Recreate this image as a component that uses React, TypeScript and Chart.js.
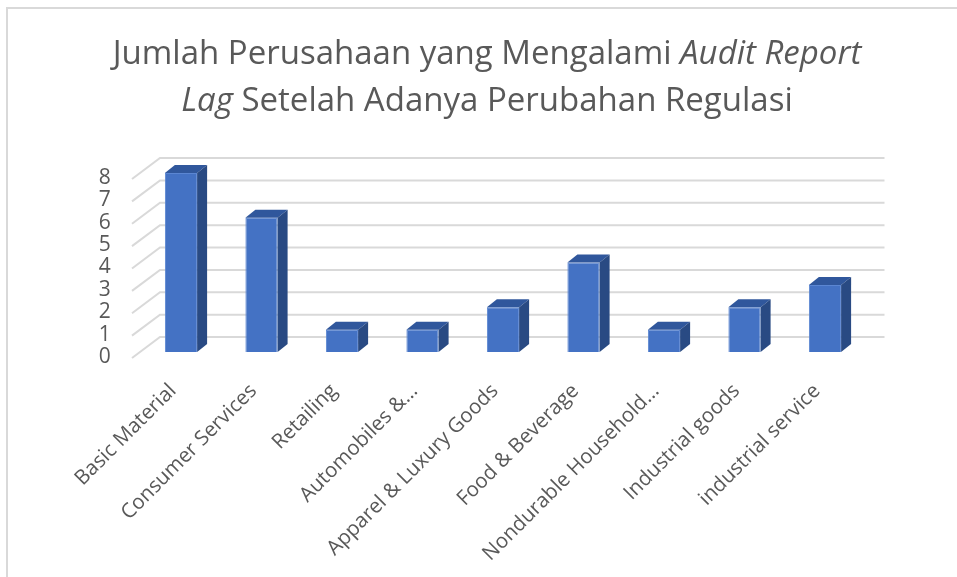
import React, { useEffect, useRef } from "react";
import { Chart, registerables } from "chart.js";

Chart.register(...registerables);

const categories = [
  "Basic Material",
  "Consumer Services",
  "Retailing",
  "Automobiles &...",
  "Apparel & Luxury Goods",
  "Food & Beverage",
  "Nondurable Household...",
  "Industrial goods",
  "industrial service",
];
const values = [8, 6, 1, 1, 2, 4, 1, 2, 3];
const yTicks = [0, 1, 2, 3, 4, 5, 6, 7, 8];
const titleLine1 = [
  { text: "Jumlah Perusahaan yang Mengalami ", italic: false },
  { text: "Audit Report", italic: true },
];
const titleLine2 = [
  { text: "Lag", italic: true },
  { text: " Setelah Adanya Perubahan Regulasi", italic: false },
];

const FRONT_DX = -8.75;
const FRONT_DY = 6;
const BACK_DX = 19.25;
const BACK_DY = -15;
const BAR_DX = 10;
const BAR_DY = -8;

const frame3d = {
  id: "frame3d",
  beforeDraw(chart: any) {
    const ctx = chart.ctx;
    ctx.save();
    ctx.fillStyle = "#ffffff";
    ctx.fillRect(0, 0, chart.width, chart.height);
    ctx.strokeStyle = "#D9D9D9";
    ctx.lineWidth = 2;
    ctx.strokeRect(7, 8, 1200, 1200);
    ctx.restore();
  },
  beforeDatasetsDraw(chart: any) {
    const ctx = chart.ctx;
    const y = chart.scales.y;
    const area = chart.chartArea;
    ctx.save();
    ctx.strokeStyle = "#D9D9D9";
    ctx.lineWidth = 2;
    yTicks.forEach((v) => {
      const py = y.getPixelForValue(v);
      ctx.beginPath();
      ctx.moveTo(area.left + FRONT_DX, py + FRONT_DY);
      ctx.lineTo(area.left + BACK_DX, py + BACK_DY);
      ctx.lineTo(area.right + BACK_DX, py + BACK_DY);
      ctx.stroke();
    });
    ctx.restore();
  },
  afterDatasetsDraw(chart: any) {
    const ctx = chart.ctx;
    const meta = chart.getDatasetMeta(0);
    ctx.save();
    meta.data.forEach((bar: any) => {
      const { x, y, base, width } = bar.getProps(["x", "y", "base", "width"], true);
      const l = x - width / 2;
      const r = x + width / 2;
      ctx.fillStyle = "#30579C";
      ctx.beginPath();
      ctx.moveTo(l, y);
      ctx.lineTo(l + BAR_DX, y + BAR_DY);
      ctx.lineTo(r + BAR_DX, y + BAR_DY);
      ctx.lineTo(r, y);
      ctx.closePath();
      ctx.fill();
      ctx.fillStyle = "#294A83";
      ctx.beginPath();
      ctx.moveTo(r, y);
      ctx.lineTo(r + BAR_DX, y + BAR_DY);
      ctx.lineTo(r + BAR_DX, base + BAR_DY);
      ctx.lineTo(r, base);
      ctx.closePath();
      ctx.fill();
    });
    ctx.restore();
  },
  afterDraw(chart: any) {
    const ctx = chart.ctx;
    ctx.save();
    ctx.fillStyle = "#595959";
    ctx.textBaseline = "alphabetic";
    const size = 33;
    const drawLine = (segs: any[], baseline: number, cx: number) => {
      const widths = segs.map((s) => {
        ctx.font = `${s.italic ? "italic " : ""}${size}px "Open Sans"`;
        return ctx.measureText(s.text).width;
      });
      const total = widths.reduce((a, b) => a + b, 0);
      let x = cx - total / 2;
      segs.forEach((s, i) => {
        ctx.font = `${s.italic ? "italic " : ""}${size}px "Open Sans"`;
        ctx.textAlign = "left";
        ctx.fillText(s.text, x, baseline);
        x += widths[i];
      });
    };
    drawLine(titleLine1, 64, 487);
    drawLine(titleLine2, 111, 487);
    ctx.restore();
  },
};

export default function App() {
  const ref = useRef<HTMLCanvasElement>(null);
  useEffect(() => {
    if (!ref.current) return;
    const chart = new Chart(ref.current, {
      type: "bar",
      data: {
        labels: categories,
        datasets: [
          {
            data: values,
            backgroundColor: "#4472C4",
            borderColor: "#5B86D2",
            borderWidth: 1,
            barPercentage: 0.4,
            categoryPercentage: 1,
          },
        ],
      },
      options: {
        animation: false,
        responsive: false,
        maintainAspectRatio: false,
        layout: { padding: { left: 80.75, right: 91.75, top: 173, bottom: 0 } },
        plugins: { legend: { display: false }, title: { display: false }, tooltip: { enabled: false } },
        scales: {
          x: {
            grid: { display: false, drawTicks: false },
            border: { display: false },
            afterFit: (s: any) => {
              s.height = 225;
            },
            ticks: {
              autoSkip: false,
              maxRotation: 45,
              minRotation: 45,
              padding: 27,
              labelOffset: -8,
              color: "#595959",
              font: { family: "Open Sans", size: 20.5 },
            },
          },
          y: {
            min: 0,
            max: 8,
            grid: { display: false, drawTicks: false },
            border: { display: false },
            afterFit: (s: any) => {
              s.width = 60;
            },
            ticks: {
              stepSize: 1,
              autoSkip: false,
              padding: 30,
              labelOffset: 5,
              color: "#595959",
              font: { family: "Open Sans", size: 21 },
            },
          },
        },
      },
      plugins: [frame3d],
    });
    return () => chart.destroy();
  }, []);
  return (
    <div style={{ position: "fixed", left: 0, top: 0, width: 957, height: 577, background: "#fff" }}>
      <canvas ref={ref} width={957} height={577} style={{ display: "block" }} />
    </div>
  );
}
